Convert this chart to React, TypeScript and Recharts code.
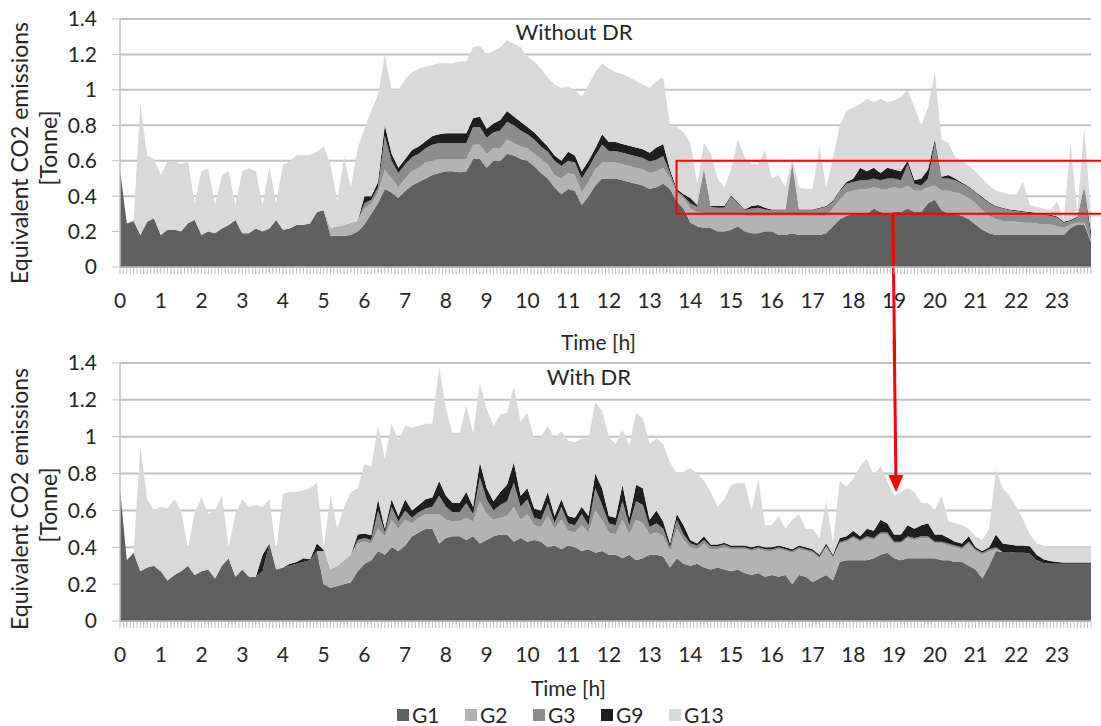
import React from 'react';
import {
  AreaChart,
  Area,
  XAxis,
  YAxis,
  CartesianGrid,
  ReferenceArea,
  ReferenceLine,
  Legend,
  Customized,
  Label,
} from 'recharts';

const FONT = 'Lato, "Noto Sans", "DejaVu Sans", sans-serif';
const TEXT = '#262626';
const RED = '#ff0000';

// ---------- categories / labels ----------
const HOUR_LABELS = ['0','1','2','3','4','5','6','7','8','9','10','11','12','13','14','15','16','17','18','19','20','21','22','23'];
const Y_TICKS = [0, 0.2, 0.4, 0.6, 0.8, 1, 1.2, 1.4];
const Y_LABELS = ['0', '0.2', '0.4', '0.6', '0.8', '1', '1.2', '1.4'];
const STEP_MIN = 10; // minutes between samples
const TICK_STEP_MIN = 5; // minor axis tick spacing

const SERIES = [
  { key: 'G1', color: '#606060' },
  { key: 'G2', color: '#b3b3b3' },
  { key: 'G3', color: '#8d8d8d' },
  { key: 'G9', color: '#1e1e1e' },
  { key: 'G13', color: '#d9d9d9' },
];

// ---------- Without DR ----------
const W_G1 = [
  0.55, 0.245, 0.26, 0.18, 0.255, 0.275, 0.18, 0.21, 0.21, 0.2, 0.247, 0.265,
  0.18, 0.2, 0.19, 0.218, 0.237, 0.265, 0.19, 0.19, 0.218, 0.2, 0.218, 0.265,
  0.21, 0.218, 0.237, 0.237, 0.247, 0.31, 0.32, 0.177, 0.177, 0.177, 0.18, 0.2,
  0.24, 0.3, 0.36, 0.44, 0.42, 0.39, 0.43, 0.46, 0.48, 0.5, 0.52, 0.53,
  0.54, 0.54, 0.535, 0.54, 0.61, 0.61, 0.56, 0.6, 0.6, 0.64, 0.63, 0.61,
  0.6, 0.57, 0.53, 0.5, 0.45, 0.41, 0.44, 0.43, 0.35, 0.4, 0.46, 0.5,
  0.5, 0.5, 0.49, 0.48, 0.47, 0.46, 0.44, 0.45, 0.47, 0.44, 0.37, 0.33,
  0.25, 0.23, 0.22, 0.22, 0.2, 0.2, 0.21, 0.23, 0.2, 0.19, 0.19, 0.2,
  0.2, 0.18, 0.18, 0.19, 0.18, 0.18, 0.18, 0.18, 0.19, 0.23, 0.27, 0.29,
  0.3, 0.3, 0.3, 0.33, 0.31, 0.3, 0.31, 0.31, 0.33, 0.31, 0.31, 0.36,
  0.38, 0.32, 0.3, 0.3, 0.29, 0.27, 0.24, 0.21, 0.19, 0.18, 0.18, 0.18,
  0.18, 0.18, 0.18, 0.18, 0.18, 0.18, 0.18, 0.18, 0.22, 0.24, 0.24, 0.14,
];
const W_G2 = [
  0, 0, 0, 0, 0, 0, 0, 0, 0, 0, 0, 0,
  0, 0, 0, 0, 0, 0, 0, 0, 0, 0, 0, 0,
  0, 0, 0, 0, 0, 0, 0, 0.043, 0.053, 0.058, 0.07, 0.06,
  0.09, 0.06, 0.06, 0.11, 0.08, 0.06, 0.07, 0.08, 0.08, 0.09, 0.08, 0.08,
  0.07, 0.07, 0.075, 0.07, 0.08, 0.08, 0.08, 0.07, 0.07, 0.08, 0.07, 0.07,
  0.07, 0.07, 0.08, 0.08, 0.07, 0.09, 0.09, 0.09, 0.07, 0.08, 0.09, 0.09,
  0.09, 0.09, 0.09, 0.09, 0.09, 0.09, 0.09, 0.09, 0.09, 0.06, 0.05, 0.06,
  0.08, 0.08, 0.08, 0.08, 0.1, 0.1, 0.09, 0.07, 0.09, 0.1, 0.1, 0.09,
  0.09, 0.11, 0.11, 0.1, 0.11, 0.11, 0.11, 0.11, 0.1, 0.1, 0.11, 0.13,
  0.13, 0.14, 0.14, 0.12, 0.13, 0.14, 0.14, 0.13, 0.13, 0.12, 0.12, 0.09,
  0.08, 0.11, 0.13, 0.12, 0.12, 0.12, 0.12, 0.11, 0.1, 0.09, 0.08, 0.08,
  0.075, 0.07, 0.07, 0.065, 0.06, 0.06, 0.05, 0.04, 0.02, 0.01, 0.01, 0.01,
];
const W_G3 = [
  0, 0, 0, 0, 0, 0, 0, 0, 0, 0, 0, 0,
  0, 0, 0, 0, 0, 0, 0, 0, 0, 0, 0, 0,
  0, 0, 0, 0, 0, 0, 0, 0, 0, 0, 0, 0,
  0.03, 0.02, 0.03, 0.19, 0.1, 0.08, 0.08, 0.08, 0.08, 0.08, 0.09, 0.09,
  0.09, 0.09, 0.09, 0.09, 0.1, 0.1, 0.09, 0.09, 0.1, 0.1, 0.1, 0.09,
  0.08, 0.08, 0.07, 0.07, 0.08, 0.07, 0.07, 0.07, 0.08, 0.08, 0.08, 0.1,
  0.065, 0.065, 0.065, 0.065, 0.065, 0.065, 0.065, 0.065, 0.065, 0.03, 0.01, 0.01,
  0.03, 0.03, 0.25, 0.04, 0.035, 0.035, 0.1, 0.06, 0.03, 0.04, 0.045, 0.035,
  0.03, 0.03, 0.03, 0.29, 0.03, 0.03, 0.03, 0.04, 0.05, 0.04, 0.05, 0.05,
  0.05, 0.05, 0.05, 0.05, 0.05, 0.06, 0.05, 0.05, 0.12, 0.04, 0.03, 0.05,
  0.24, 0.07, 0.07, 0.07, 0.06, 0.06, 0.06, 0.07, 0.07, 0.07, 0.07, 0.06,
  0.06, 0.06, 0.055, 0.055, 0.055, 0.05, 0.05, 0.03, 0.02, 0.03, 0.2, 0.01,
];
const W_G9 = [
  0, 0, 0, 0, 0, 0, 0, 0, 0, 0, 0, 0,
  0, 0, 0, 0, 0, 0, 0, 0, 0, 0, 0, 0,
  0, 0, 0, 0, 0, 0, 0, 0, 0, 0, 0, 0,
  0.04, 0.02, 0.03, 0.06, 0.04, 0.03, 0.03, 0.04, 0.04, 0.04, 0.05, 0.05,
  0.055, 0.055, 0.055, 0.055, 0.05, 0.06, 0.05, 0.05, 0.06, 0.06, 0.05, 0.05,
  0.04, 0.04, 0.04, 0.03, 0.03, 0.03, 0.05, 0.04, 0.04, 0.04, 0.04, 0.06,
  0.05, 0.05, 0.05, 0.05, 0.05, 0.05, 0.05, 0.07, 0.07, 0.02, 0.01, 0.01,
  0.03, 0.01, 0.005, 0.005, 0.01, 0.01, 0.005, 0.005, 0.005, 0.015, 0.015, 0.01,
  0.005, 0.005, 0.005, 0.005, 0.005, 0.005, 0.005, 0.005, 0.005, 0.005, 0.005, 0.01,
  0.02, 0.07, 0.05, 0.06, 0.04, 0.06, 0.05, 0.05, 0.02, 0.02, 0.04, 0.05,
  0.02, 0.01, 0.02, 0.01, 0.005, 0.005, 0.005, 0.005, 0.005, 0.005, 0.005, 0.005,
  0.005, 0.005, 0.005, 0.005, 0.005, 0.005, 0.005, 0.005, 0.005, 0.005, 0.005, 0.04,
];
const W_G13 = [
  0, 0, 0, 0.74, 0.375, 0.335, 0.34, 0.385, 0.385, 0.38, 0.348, 0.095,
  0.36, 0.357, 0.16, 0.302, 0.303, 0.085, 0.35, 0.367, 0.322, 0.15, 0.348, 0.095,
  0.366, 0.377, 0.395, 0.395, 0.385, 0.34, 0.36, 0.36, 0.14, 0.385, 0.2, 0.41,
  0.38, 0.48, 0.49, 0.4, 0.36, 0.44, 0.45, 0.44, 0.44, 0.42, 0.4, 0.4,
  0.395, 0.395, 0.405, 0.405, 0.4, 0.4, 0.42, 0.41, 0.41, 0.4, 0.41, 0.42,
  0.4, 0.4, 0.4, 0.39, 0.4, 0.41, 0.37, 0.37, 0.42, 0.43, 0.43, 0.4,
  0.415, 0.395, 0.395, 0.385, 0.375, 0.365, 0.365, 0.375, 0.375, 0.25, 0.35, 0.35,
  0.31, 0.12, 0.145, 0.295, 0.155, 0.105, 0.145, 0.355, 0.295, 0.235, 0.23, 0.325,
  0.175, 0.195, 0.125, 0.035, 0.125, 0.115, 0.115, 0.345, 0.105, 0.245, 0.365, 0.4,
  0.4, 0.36, 0.41, 0.37, 0.42, 0.37, 0.39, 0.42, 0.4, 0.41, 0.3, 0.35,
  0.38, 0.21, 0.18, 0.12, 0.125, 0.115, 0.115, 0.105, 0.095, 0.085, 0.085, 0.085,
  0.09, 0.165, 0.04, 0.035, 0.03, 0.025, 0.085, 0.015, 0.435, 0.015, 0.335, 0.1,
];

// ---------- With DR ----------
const D_G1 = [
  0.72, 0.33, 0.37, 0.27, 0.29, 0.3, 0.27, 0.22, 0.25, 0.27, 0.3, 0.25,
  0.27, 0.28, 0.23, 0.3, 0.34, 0.24, 0.28, 0.24, 0.24, 0.27, 0.42, 0.28,
  0.29, 0.3, 0.31, 0.32, 0.33, 0.38, 0.2, 0.18, 0.19, 0.2, 0.21, 0.27,
  0.31, 0.33, 0.38, 0.36, 0.4, 0.38, 0.41, 0.46, 0.48, 0.5, 0.5, 0.42,
  0.45, 0.46, 0.46, 0.44, 0.46, 0.42, 0.44, 0.46, 0.47, 0.47, 0.43, 0.45,
  0.43, 0.44, 0.43, 0.4, 0.41, 0.39, 0.41, 0.4, 0.38, 0.39, 0.37, 0.38,
  0.36, 0.36, 0.34, 0.36, 0.33, 0.34, 0.36, 0.36, 0.35, 0.29, 0.34, 0.31,
  0.3, 0.31, 0.29, 0.28, 0.29, 0.28, 0.27, 0.28, 0.26, 0.25, 0.26, 0.24,
  0.25, 0.24, 0.25, 0.2, 0.25, 0.24, 0.21, 0.23, 0.25, 0.22, 0.32, 0.33,
  0.33, 0.33, 0.33, 0.34, 0.36, 0.37, 0.34, 0.33, 0.34, 0.34, 0.34, 0.34,
  0.34, 0.33, 0.33, 0.32, 0.32, 0.3, 0.28, 0.23, 0.3, 0.38, 0.375, 0.375,
  0.37, 0.37, 0.365, 0.33, 0.315, 0.31, 0.31, 0.31, 0.31, 0.31, 0.31, 0.31,
];
const D_G2 = [
  0, 0, 0, 0, 0, 0, 0, 0, 0, 0, 0, 0,
  0, 0, 0, 0, 0, 0, 0, 0, 0, 0, 0, 0,
  0, 0, 0, 0, 0, 0, 0.18, 0.1, 0.11, 0.13, 0.15, 0.15,
  0.12, 0.09, 0.12, 0.1, 0.15, 0.12, 0.14, 0.07, 0.08, 0.08, 0.08, 0.16,
  0.1, 0.08, 0.08, 0.12, 0.08, 0.23, 0.14, 0.09, 0.09, 0.1, 0.19, 0.1,
  0.15, 0.08, 0.08, 0.17, 0.09, 0.16, 0.08, 0.08, 0.14, 0.09, 0.23, 0.17,
  0.12, 0.11, 0.21, 0.11, 0.22, 0.19, 0.11, 0.12, 0.11, 0.09, 0.16, 0.13,
  0.1, 0.08, 0.13, 0.11, 0.1, 0.12, 0.12, 0.11, 0.13, 0.13, 0.13, 0.14,
  0.13, 0.15, 0.13, 0.17, 0.14, 0.14, 0.16, 0.11, 0.15, 0.12, 0.1, 0.1,
  0.12, 0.1, 0.12, 0.1, 0.11, 0.1, 0.08, 0.09, 0.11, 0.1, 0.11, 0.11,
  0.08, 0.09, 0.08, 0.08, 0.07, 0.12, 0.1, 0.13, 0.08, 0.01, 0, 0,
  0, 0, 0, 0, 0, 0, 0, 0, 0, 0, 0, 0,
];
const D_G3 = [
  0, 0, 0, 0, 0, 0, 0, 0, 0, 0, 0, 0,
  0, 0, 0, 0, 0, 0, 0, 0, 0, 0, 0, 0,
  0, 0, 0, 0, 0, 0, 0, 0, 0, 0, 0, 0.02,
  0.02, 0.02, 0.1, 0.02, 0.07, 0.04, 0.05, 0.03, 0.03, 0.03, 0.04, 0.1,
  0.07, 0.05, 0.05, 0.08, 0.04, 0.13, 0.08, 0.05, 0.07, 0.08, 0.13, 0.07,
  0.08, 0.04, 0.04, 0.07, 0.03, 0.07, 0.04, 0.04, 0.06, 0.04, 0.12, 0.08,
  0.05, 0.05, 0.1, 0.05, 0.1, 0.1, 0.04, 0.05, 0.04, 0.02, 0.05, 0.03,
  0.02, 0.02, 0.02, 0.015, 0.015, 0.015, 0.01, 0.01, 0.01, 0.01, 0.01, 0.01,
  0.01, 0.01, 0.01, 0.01, 0.01, 0.01, 0.01, 0.01, 0.01, 0.01, 0.01, 0.01,
  0.01, 0.01, 0.01, 0.01, 0.01, 0.01, 0.01, 0.01, 0.01, 0.01, 0.01, 0.01,
  0.01, 0.01, 0.01, 0.01, 0.01, 0.01, 0.01, 0.01, 0.01, 0.01, 0, 0,
  0, 0, 0, 0, 0, 0, 0, 0, 0, 0, 0, 0,
];
const D_G9 = [
  0, 0, 0, 0, 0, 0, 0, 0, 0, 0, 0, 0,
  0, 0, 0, 0, 0, 0, 0, 0, 0, 0.09, 0, 0,
  0, 0.01, 0.01, 0.02, 0.005, 0.04, 0.005, 0, 0, 0, 0, 0.03,
  0.025, 0.025, 0.06, 0.02, 0.04, 0.03, 0.06, 0.04, 0.04, 0.05, 0.05, 0.08,
  0.06, 0.05, 0.05, 0.06, 0.04, 0.08, 0.06, 0.05, 0.07, 0.09, 0.11, 0.06,
  0.06, 0.05, 0.05, 0.06, 0.04, 0.04, 0.04, 0.04, 0.04, 0.05, 0.08, 0.09,
  0.04, 0.04, 0.09, 0.04, 0.09, 0.09, 0.04, 0.07, 0.04, 0.02, 0.03, 0.05,
  0.02, 0.01, 0.02, 0.01, 0.01, 0.01, 0.01, 0.01, 0.01, 0.01, 0.01, 0.01,
  0.01, 0.01, 0.01, 0.01, 0.01, 0.01, 0.01, 0.01, 0.01, 0.01, 0.02, 0.02,
  0.03, 0.02, 0.04, 0.04, 0.07, 0.05, 0.04, 0.04, 0.06, 0.05, 0.06, 0.07,
  0.04, 0.04, 0.03, 0.02, 0.02, 0.03, 0.01, 0.01, 0.01, 0.07, 0.045, 0.04,
  0.04, 0.04, 0.04, 0.03, 0.02, 0.015, 0.01, 0.008, 0.008, 0.008, 0.008, 0.008,
];
const D_G13 = [
  0, 0, 0, 0.68, 0.37, 0.3, 0.35, 0.39, 0.41, 0.33, 0.09, 0.34,
  0.4, 0.3, 0.37, 0.38, 0.06, 0.34, 0.38, 0.38, 0.39, 0.26, 0.24, 0.1,
  0.4, 0.39, 0.38, 0.37, 0.385, 0.33, 0.015, 0.4, 0.2, 0.29, 0.34, 0.25,
  0.375, 0.375, 0.4, 0.38, 0.41, 0.41, 0.4, 0.45, 0.43, 0.41, 0.4, 0.62,
  0.47, 0.38, 0.38, 0.47, 0.4, 0.43, 0.43, 0.41, 0.42, 0.39, 0.41, 0.4,
  0.41, 0.38, 0.4, 0.36, 0.42, 0.37, 0.41, 0.41, 0.37, 0.42, 0.39, 0.42,
  0.43, 0.4, 0.3, 0.39, 0.39, 0.38, 0.41, 0.39, 0.42, 0.44, 0.22, 0.29,
  0.39, 0.38, 0.3, 0.285, 0.205, 0.235, 0.33, 0.34, 0.34, 0.2, 0.36, 0.12,
  0.12, 0.16, 0.1, 0.16, 0.17, 0.1, 0.11, 0.09, 0.23, 0.06, 0.31, 0.27,
  0.28, 0.38, 0.38, 0.3, 0.29, 0.23, 0.21, 0.23, 0.2, 0.2, 0.12, 0.11,
  0.13, 0.21, 0.09, 0.1, 0.1, 0.04, 0.06, 0.06, 0.1, 0.35, 0.3, 0.265,
  0.21, 0.14, 0.065, 0.06, 0.075, 0.075, 0.08, 0.082, 0.082, 0.082, 0.082, 0.082,
];

// ---------- table building ----------
function buildRows(g1: number[], g2: number[], g3: number[], g9: number[], g13: number[]) {
  return g1.map((v, i) => ({
    h: (i * STEP_MIN) / 60,
    G1: v,
    G2: g2[i],
    G3: g3[i],
    G9: g9[i],
    G13: g13[i],
  }));
}
const ROWS_W = buildRows(W_G1, W_G2, W_G3, W_G9, W_G13);
const ROWS_D = buildRows(D_G1, D_G2, D_G3, D_G9, D_G13);
const X_MAX = ((W_G1.length - 1) * STEP_MIN) / 60;
const MINOR_TICKS = Array.from(
  { length: Math.floor((X_MAX * 60) / TICK_STEP_MIN) + 1 },
  (_, k) => (k * TICK_STEP_MIN) / 60,
);

// ---------- helpers ----------
function XTick(props: any) {
  const { x, y, payload } = props;
  const v = payload.value;
  const r = Math.round(v);
  if (Math.abs(v - r) > 1e-6) return <g />;
  return (
    <text x={x} y={y} dy="0.71em" textAnchor="middle" fill={TEXT} fontSize={21} fontFamily={FONT}>
      {HOUR_LABELS[r]}
    </text>
  );
}

function ArrowShape(props: any) {
  const { x1, y1, x2, y2 } = props;
  const dx = x2 - x1;
  const dy = y2 - y1;
  const len = Math.hypot(dx, dy) || 1;
  const ux = dx / len;
  const uy = dy / len;
  const headLen = 17;
  const half = 7.5;
  const bx = x2 - ux * headLen;
  const by = y2 - uy * headLen;
  const px = -uy;
  const py = ux;
  return (
    <g>
      <line x1={x1} y1={y1} x2={bx} y2={by} stroke={RED} strokeWidth={3} />
      <polygon
        points={`${x2},${y2} ${bx + px * half},${by + py * half} ${bx - px * half},${by - py * half}`}
        fill={RED}
      />
    </g>
  );
}

function PanelText(props: any) {
  const { title, titleX, titleY, eqY, tonneY } = props;
  return (
    <g fontFamily={FONT} fill={TEXT}>
      <text x={titleX} y={titleY} textAnchor="middle" fontSize={22} fill={TEXT}>
        {title}
      </text>
      <text x={28} y={eqY} transform={`rotate(-90 28 ${eqY})`} textAnchor="middle" fontSize={23} fill={TEXT}>
        Equivalent CO2 emissions
      </text>
      <text x={57} y={tonneY} transform={`rotate(-90 57 ${tonneY})`} textAnchor="middle" fontSize={23} fill={TEXT}>
        [Tonne]
      </text>
    </g>
  );
}

const renderLegend = () => (
  <div style={{ display: 'flex', fontFamily: FONT, fontSize: 21, color: TEXT, lineHeight: '17px', height: 17 }}>
    {SERIES.map((s) => (
      <div key={s.key} style={{ width: 68, display: 'flex', alignItems: 'center' }}>
        <span style={{ width: 12, height: 12, background: s.color, marginRight: 3, display: 'inline-block' }} />
        <span>{s.key}</span>
      </div>
    ))}
  </div>
);

type PanelProps = {
  rows: any[];
  height: number;
  top: number;
  axisHeight: number;
  title: string;
  titleX: number;
  titleY: number;
  eqY: number;
  tonneY: number;
  timeOffset: number;
  timeDx: number;
  children?: React.ReactNode;
};

function Panel(p: PanelProps) {
  return (
    <AreaChart width={1101} height={p.height} data={p.rows} margin={{ top: p.top, right: 10, bottom: 0, left: 0 }}>
      <CartesianGrid vertical={false} stroke="#c2c2c2" strokeWidth={2} />
      <XAxis
        type="number"
        dataKey="h"
        domain={[0, X_MAX]}
        ticks={MINOR_TICKS}
        interval={0}
        tick={XTick}
        tickSize={7}
        tickMargin={19}
        tickLine={{ stroke: '#bdbdbd', strokeWidth: 1 }}
        axisLine={{ stroke: '#b5b5b5', strokeWidth: 1.5 }}
        height={p.axisHeight}
        allowDataOverflow
      >
        <Label
          value="Time [h]"
          position="insideBottom"
          offset={p.timeOffset}
          dx={p.timeDx}
          fill={TEXT}
          fontSize={21}
          fontFamily={FONT}
        />
      </XAxis>
      <YAxis
        domain={[0, 1.4]}
        ticks={Y_TICKS}
        interval={0}
        tickFormatter={(v: number) => Y_LABELS[Y_TICKS.indexOf(v)] ?? String(v)}
        width={120}
        tickSize={8}
        tickMargin={15}
        tick={{ fill: TEXT, fontSize: 21, fontFamily: FONT }}
        tickLine={{ stroke: '#c2c2c2' }}
        axisLine={{ stroke: '#c2c2c2', strokeWidth: 1.5 }}
        allowDataOverflow
      />
      {SERIES.map((s) => (
        <Area
          key={s.key}
          type="linear"
          dataKey={s.key}
          name={s.key}
          stackId="stack"
          stroke="none"
          fill={s.color}
          fillOpacity={1}
          isAnimationActive={false}
          dot={false}
          activeDot={false}
        />
      ))}
      {p.children}
      <Customized
        component={
          <PanelText title={p.title} titleX={p.titleX} titleY={p.titleY} eqY={p.eqY} tonneY={p.tonneY} />
        }
      />
    </AreaChart>
  );
}

export default function App() {
  return (
    <div
      style={{
        position: 'fixed',
        left: 0,
        top: 0,
        width: 1101,
        height: 726,
        background: '#ffffff',
        overflow: 'hidden',
        fontFamily: FONT,
      }}
    >
      <div style={{ position: 'absolute', left: 0, top: 0 }}>
        <Panel
          rows={ROWS_W}
          height={360}
          top={19}
          axisHeight={93}
          title="Without DR"
          titleX={574}
          titleY={40}
          eqY={153}
          tonneY={148}
          timeOffset={10}
          timeDx={-7}
        >
          <ReferenceArea
            x1={13.66}
            x2={24.6}
            y1={0.3}
            y2={0.6}
            fill="none"
            fillOpacity={0}
            stroke={RED}
            strokeWidth={2}
            ifOverflow="visible"
          />
          <ReferenceLine
            segment={[
              { x: 18.97, y: 0.3 },
              { x: 19.03, y: -0.87 },
            ]}
            stroke={RED}
            strokeWidth={3}
            ifOverflow="visible"
          />
        </Panel>
      </div>
      <div style={{ position: 'absolute', left: 0, top: 340 }}>
        <Panel
          rows={ROWS_D}
          height={386}
          top={23}
          axisHeight={105}
          title="With DR"
          titleX={589}
          titleY={45}
          eqY={159}
          tonneY={165}
          timeOffset={30}
          timeDx={-37}
        >
          <ReferenceLine
            segment={[
              { x: 18.99, y: 1.75 },
              { x: 19.05, y: 0.7 },
            ]}
            stroke={RED}
            strokeWidth={3}
            ifOverflow="visible"
            shape={ArrowShape}
          />
          <Legend
            verticalAlign="middle"
            align="center"
            layout="horizontal"
            content={renderLegend}
            wrapperStyle={{ left: 397, top: 366, width: 360, height: 17 }}
          />
        </Panel>
      </div>
    </div>
  );
}
